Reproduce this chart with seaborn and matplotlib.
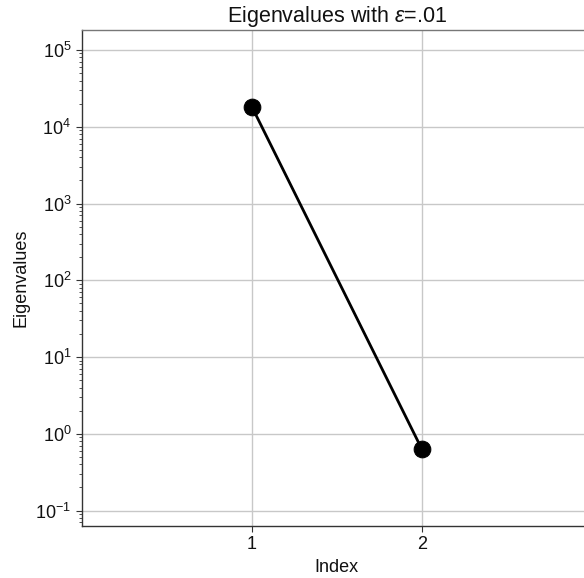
import matplotlib
matplotlib.use("Agg")
import matplotlib.pyplot as plt
import matplotlib.ticker as mticker
import seaborn as sns
import pandas as pd

index = [1, 2]
eigenvalues = [1.83e4, 0.63]
title = "Eigenvalues with $\\varepsilon$=.01"

sns.set_style("whitegrid")
plt.rcParams['font.family'] = ['Liberation Sans', 'DejaVu Sans']
plt.rcParams['mathtext.fontset'] = 'custom'
plt.rcParams['mathtext.it'] = 'Liberation Sans:italic'
plt.rcParams['mathtext.rm'] = 'Liberation Sans'
plt.rcParams['text.color'] = '#111111'
plt.rcParams['axes.labelcolor'] = '#111111'
plt.rcParams['xtick.color'] = '#111111'
plt.rcParams['ytick.color'] = '#111111'

df = pd.DataFrame({"Index": index, "Eigenvalues": eigenvalues})

fig = plt.figure(figsize=(5.84, 5.78), dpi=100)
ax = fig.add_axes([81.7/584, 1-526/578, (592-81.7)/584, (526-30)/578])
sns.lineplot(data=df, x="Index", y="Eigenvalues", ax=ax, color="black",
             linewidth=2, marker="o", markersize=12, markeredgecolor="black")
ax.set_yscale("log")
ax.set_xlim(0, 3)
ax.set_ylim(0.063, 1.82e5)
ax.set_xticks([1, 2])
ax.set_xticklabels(["1", "2"])
ax.yaxis.set_minor_formatter(mticker.NullFormatter())
ax.grid(True, which="major", color="#c8c8c8", linewidth=1)
ax.grid(False, which="minor")
ax.tick_params(axis="both", which="major", labelsize=13, direction="out",
               length=4, width=0.8, color="#333333", left=True, bottom=True)
ax.tick_params(axis="y", which="minor", direction="out", length=2, width=0.6,
               color="#333333", left=True)
for s in ax.spines.values():
    s.set_color("#333333")
    s.set_linewidth(1)
ax.spines["top"].set_color("#777777")
ax.set_xlabel("Index", fontsize=13)
ax.set_ylabel("Eigenvalues", fontsize=13)
ax.set_title(title, fontsize=15.5)
fig.savefig("out.png", dpi=100)
